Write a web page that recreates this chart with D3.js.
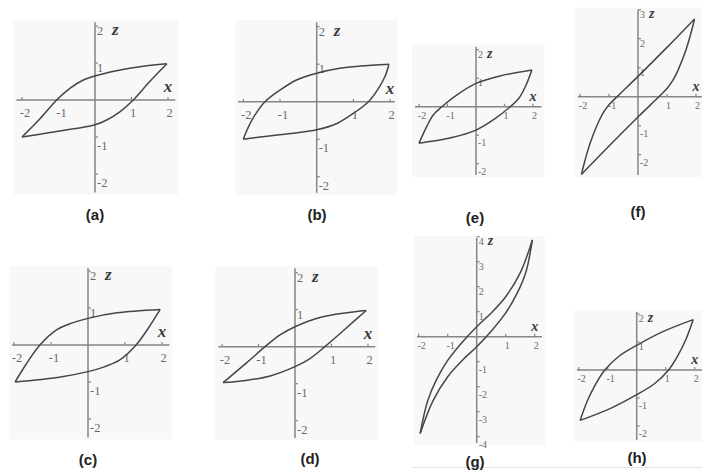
<!DOCTYPE html>
<html>
<head>
<meta charset="utf-8">
<script src="https://cdn.jsdelivr.net/npm/d3@7"></script>
<style>
  body { margin: 0; background: #fff; }
  svg { display: block; }
</style>
</head>
<body>
<script>
"use strict";

// loop branches as [x, z]
const aUpper = [[-2, -1], [-1.5, -0.5], [-1.05, 0], [-0.68, 0.32], [-0.32, 0.54], [0, 0.65], [0.59, 0.79], [1.23, 0.9], [1.97, 0.98]];
const aLower = [[-2, -1], [-1.23, -0.88], [-0.59, -0.78], [0, -0.67], [0.32, -0.54], [0.68, -0.32], [1.05, 0], [1.5, 0.5], [1.97, 0.98]];

const bUpper = [[-2, -1], [-1.86, -0.67], [-1.68, -0.35], [-1.41, 0], [-1, 0.31], [-0.55, 0.58], [0, 0.76], [0.63, 0.89], [1.18, 0.95], [1.97, 1]];
const bLower = [[-2, -1], [-1.18, -0.9], [-0.63, -0.84], [0, -0.75], [0.55, -0.58], [1, -0.31], [1.41, 0], [1.68, 0.35], [1.86, 0.67], [1.97, 1]];

const eUpper = [[-2, -1.28], [-1.73, -0.7], [-1.5, -0.29], [-1.2, 0], [-0.68, 0.41], [0, 0.82], [0.84, 1.08], [1.96, 1.29]];
const eLower = [[-2, -1.28], [-0.84, -1.08], [0, -0.82], [0.68, -0.41], [1.2, 0], [1.5, 0.29], [1.73, 0.7], [1.96, 1.29]];

const fUpper = [[-1.95, -2.68], [-1.85, -2.28], [-1.65, -1.6], [-1.4, -0.96], [-1.2, -0.56], [-1, -0.28], [-0.7, 0.02], [0, 0.7], [1, 1.7], [1.95, 2.68]];
const fLower = [[-1.95, -2.68], [-1, -1.7], [0, -0.7], [0.7, -0.02], [1, 0.28], [1.2, 0.56], [1.4, 0.96], [1.65, 1.6], [1.85, 2.28], [1.95, 2.68]];

const cUpper = [[-1.97, -1], [-1.66, -0.5], [-1.3, 0], [-0.85, 0.41], [-0.44, 0.59], [0, 0.72], [0.78, 0.87], [1.95, 0.96]];
const cLower = [[-1.97, -1], [-0.78, -0.87], [0, -0.72], [0.44, -0.59], [0.85, -0.41], [1.3, 0], [1.66, 0.5], [1.95, 0.96]];

const dUpper = [[-1.97, -0.97], [-1.32, -0.43], [-0.82, 0], [-0.41, 0.32], [0, 0.54], [0.68, 0.79], [1.42, 0.92], [1.95, 0.98]];
const dLower = [[-1.97, -0.97], [-1.42, -0.92], [-0.68, -0.79], [0, -0.54], [0.41, -0.32], [0.82, 0], [1.32, 0.43], [1.95, 0.98]];

const gUpper = [[-1.95, -3.87], [-1.7, -2.6], [-1.4, -1.75], [-1, -0.95], [-0.5, -0.22], [0, 0.4], [0.5, 0.95], [1, 1.6], [1.5, 2.55], [1.92, 3.87]];
const gLower = [[-1.95, -3.87], [-1.5, -2.55], [-1, -1.6], [-0.5, -0.95], [0, -0.4], [0.5, 0.22], [1, 0.95], [1.4, 1.75], [1.7, 2.6], [1.92, 3.87]];

const hUpper = [[-1.95, -1.8], [-1.7, -1.1], [-1.4, -0.48], [-1.1, 0], [-0.6, 0.5], [0, 0.88], [0.9, 1.37], [1.95, 1.8]];
const hLower = [[-1.95, -1.8], [-0.9, -1.37], [0, -0.88], [0.6, -0.5], [1.1, 0], [1.4, 0.48], [1.7, 1.1], [1.95, 1.8]];

// tick labels
const xTicks = [-2, -1, 1, 2];
const zTicks = [2, 1, -1, -2];
const zTicksF = [3, 2, 1, -1, -2];
const zTicksG = [4, 3, 2, 1, -1, -2, -3, -4];

const captions = ["(a)", "(b)", "(e)", "(f)", "(c)", "(d)", "(g)", "(h)"];

// where each small plot sits on the page
const panels = [
    { upper: aUpper, lower: aLower, zTicks, ox: 95, oy: 100, ux: 36.5, uz: 37, xExt: [-2.15, 2.2], zExt: [-2.5, 2.1], small: false, cap: [95, 220] },
    { upper: bUpper, lower: bLower, zTicks, ox: 316.7, oy: 101.7, ux: 36.7, uz: 37.5, xExt: [-2.14, 2.13], zExt: [-2.43, 2.12], small: false, cap: [317, 220] },
    { upper: eUpper, lower: eLower, zTicks, ox: 476, oy: 106.7, ux: 28.5, uz: 28.5, xExt: [-2.14, 2.3], zExt: [-2.4, 2.1], small: true, cap: [475, 223] },
    { upper: fUpper, lower: fLower, zTicks: zTicksF, ox: 638, oy: 96.7, ux: 29, uz: 29, xExt: [-2.07, 2.2], zExt: [-2.7, 3.0], small: true, cap: [638, 217] },
    { upper: cUpper, lower: cLower, zTicks, ox: 88, oy: 345, ux: 37, uz: 37, xExt: [-2.05, 2.2], zExt: [-2.5, 2.08], small: false, cap: [88, 465] },
    { upper: dUpper, lower: dLower, zTicks, ox: 295, oy: 346.7, ux: 36.5, uz: 37, xExt: [-2.1, 2.2], zExt: [-2.47, 2.12], small: false, cap: [310, 464] },
    { upper: gUpper, lower: gLower, zTicks: zTicksG, ox: 476.7, oy: 336.7, ux: 29, uz: 25, xExt: [-2.06, 2.25], zExt: [-4.25, 3.95], small: true, cap: [475, 467] },
    { upper: hUpper, lower: hLower, zTicks, ox: 636.7, oy: 370, ux: 29, uz: 28, xExt: [-2.06, 2.25], zExt: [-2.5, 2.07], small: true, cap: [637, 463] }
];

const svg = d3.select("body").append("svg")
    .attr("width", 702)
    .attr("height", 473);

// faint rule under the last two plots
svg.append("line")
    .attr("x1", 412).attr("x2", 702)
    .attr("y1", 467.5).attr("y2", 467.5)
    .attr("stroke", "#e4e4e4");

panels.forEach((p, i) => {
    const x = d3.scaleLinear().domain([0, 1]).range([p.ox, p.ox + p.ux]),
        z = d3.scaleLinear().domain([0, 1]).range([p.oy, p.oy - p.uz]),
        g = svg.append("g"),
        tickFont = p.small ? 10 : 12.5,
        nameFont = p.small ? 14 : 17;

    g.append("rect")
        .attr("x", x(p.xExt[0]) - 3)
        .attr("y", z(p.zExt[1]) - 2)
        .attr("width", x(p.xExt[1]) - x(p.xExt[0]) + 6)
        .attr("height", z(p.zExt[0]) - z(p.zExt[1]) + 4)
        .attr("fill", "#f8f8f8");

    // axes through the origin
    g.append("line")
        .attr("x1", x(p.xExt[0])).attr("x2", x(p.xExt[1]))
        .attr("y1", z(0)).attr("y2", z(0))
        .attr("stroke", "#858585").attr("stroke-width", 1.5);
    g.append("line")
        .attr("x1", x(0)).attr("x2", x(0))
        .attr("y1", z(p.zExt[1])).attr("y2", z(p.zExt[0]))
        .attr("stroke", "#858585").attr("stroke-width", 1.5);

    g.selectAll(".xt").data(xTicks).join("line")
        .attr("x1", d => x(d)).attr("x2", d => x(d))
        .attr("y1", z(0) - 3).attr("y2", z(0))
        .attr("stroke", "#858585").attr("stroke-width", 1.2);
    g.selectAll(".zt").data(p.zTicks).join("line")
        .attr("x1", x(0)).attr("x2", x(0) + 3)
        .attr("y1", d => z(d)).attr("y2", d => z(d))
        .attr("stroke", "#858585").attr("stroke-width", 1.2);

    g.selectAll(".xl").data(xTicks).join("text")
        .attr("x", d => x(d) + (d < 0 ? 3 : 1.5))
        .attr("y", z(0) + (p.small ? 12 : 17))
        .attr("text-anchor", "middle")
        .attr("font-family", "Liberation Serif, serif")
        .attr("font-size", tickFont)
        .attr("fill", "#6a6a6a")
        .text(d => d);
    g.selectAll(".zl").data(p.zTicks).join("text")
        .attr("x", x(0) + 2)
        .attr("y", d => z(d) + (d > 0 ? (p.small ? 8 : 9) : (p.small ? 11 : 13)))
        .attr("font-family", "Liberation Serif, serif")
        .attr("font-size", tickFont)
        .attr("fill", "#6a6a6a")
        .text(d => d);

    // axis names
    g.append("text")
        .attr("x", x(2))
        .attr("y", z(0) - (p.small ? 6 : 8))
        .attr("text-anchor", "middle")
        .attr("font-family", "Liberation Serif, serif")
        .attr("font-style", "italic").attr("font-weight", "bold")
        .attr("font-size", nameFont)
        .attr("fill", "#3a3a3a")
        .text("x");
    g.append("text")
        .attr("x", x(0) + (p.small ? 11 : 17))
        .attr("y", z(p.zTicks[0]) + (p.small ? 8 : 9))
        .attr("font-family", "Liberation Serif, serif")
        .attr("font-style", "italic").attr("font-weight", "bold")
        .attr("font-size", nameFont)
        .attr("fill", "#3a3a3a")
        .text("z");

    const line = d3.line()
        .x(d => x(d[0]))
        .y(d => z(d[1]))
        .curve(d3.curveCatmullRom.alpha(0.5));

    [p.upper, p.lower].forEach(branch => {
        g.append("path")
            .attr("d", line(branch))
            .attr("fill", "none")
            .attr("stroke", "#464646")
            .attr("stroke-width", 1.5);
    });

    g.append("text")
        .attr("x", p.cap[0])
        .attr("y", p.cap[1])
        .attr("text-anchor", "middle")
        .attr("font-family", "Liberation Sans, Arial, sans-serif")
        .attr("font-weight", "bold")
        .attr("font-size", 15)
        .attr("fill", "#222")
        .text(captions[i]);
});
</script>
</body>
</html>
